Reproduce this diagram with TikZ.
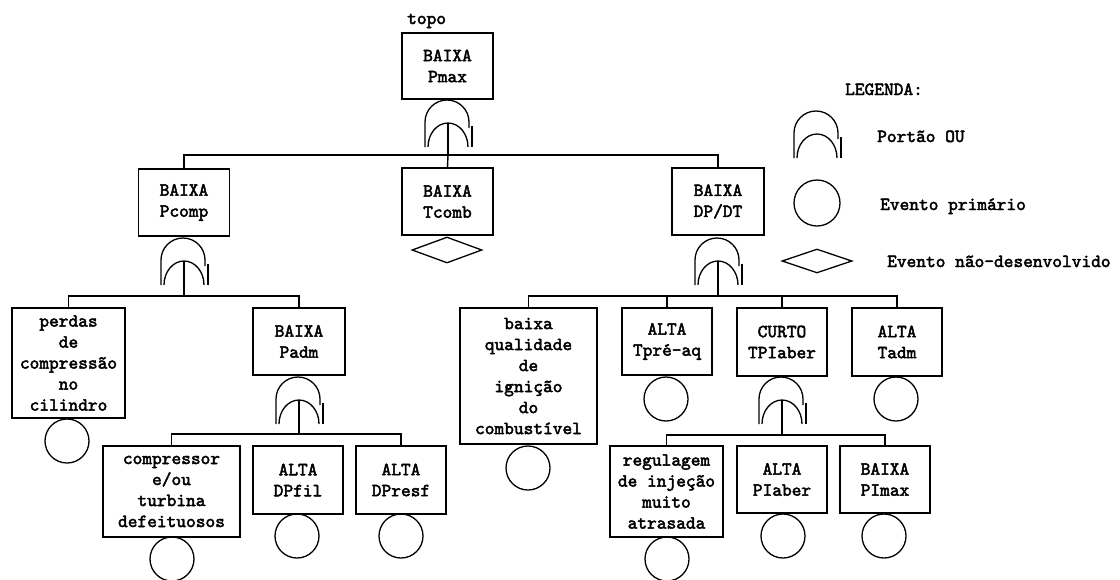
\documentclass[tikz,border=0pt]{standalone}
\usepackage{fontspec}
\newfontfamily\cmono{lmmono10-regular.otf}[BoldFont=lmmono10-regular.otf,BoldFeatures={FakeBold=2.5}]
\usetikzlibrary{shapes.geometric}
\newcommand\orgate[2]{%
  \draw[gateline] ({#1-23},{#2+47}) -- ({#1-23},{#2+22}) arc[start angle=180,end angle=360,x radius=22,y radius=22] -- ({#1+21},{#2+28});
  \draw[gateline] ({#1-20},{#2+47}) arc[start angle=180,end angle=360,x radius=20,y radius=24];
  \draw[gateline] ({#1+24},{#2+26}) -- ({#1+24},{#2+47});
}
\begin{document}
\begin{tikzpicture}[x=1pt,y=-1pt,
  every node/.style={font=\fontsize{18.5}{21}\selectfont\cmono\bfseries},
  ftbox/.style={draw,line width=1.4pt,inner sep=0pt,align=center,minimum width=90pt,minimum height=67pt},
  evt/.style={draw,circle,line width=1.3pt,inner sep=0pt,minimum size=44pt},
  und/.style={draw,diamond,line width=1.3pt,inner sep=0pt,minimum width=70pt,minimum height=26pt},
  gateline/.style={line width=1.3pt},
  conn/.style={line width=1.4pt},
  lbl/.style={anchor=base west,inner sep=0pt}]
\useasboundingbox (0,0) rectangle (1120,579);

% top
\node[lbl] (topo) at (407,24) {topo};
\node[ftbox,minimum width=91pt,minimum height=66pt] (top) at (447.5,66) {BAIXA\\Pmax};
\orgate{448}{100}
\coordinate (g0) at (448,123);
\coordinate (bus0) at (0,155);

% level 1
\node[ftbox,minimum width=91pt] (pcomp) at (184,202.5) {BAIXA\\Pcomp};
\node[ftbox,minimum width=91pt] (tcomb) at (447.5,201.5) {BAIXA\\Tcomb};
\node[und] (dtcomb) at (447,250) {};
\node[ftbox,minimum width=92pt] (dpdt) at (718,201.5) {BAIXA\\DP/DT};

\draw[conn] (g0) -- (g0 |- bus0) -| (pcomp.north);
\draw[conn] (g0 |- bus0) -| (dpdt.north);
\draw[conn] (g0 |- bus0) -- (tcomb.north);

% Pcomp gate
\orgate{184}{238}
\coordinate (g1) at (184,261);
\coordinate (bus1) at (0,296);
\node[ftbox,minimum width=113pt,minimum height=110pt] (perdas) at (68.5,363) {perdas\\de\\compressão\\no\\cilindro};
\node[evt] (cperdas) at (67,441) {};
\node[ftbox,minimum width=92pt] (padm) at (299,341.5) {BAIXA\\Padm};
\draw[conn] (g1) -- (g1 |- bus1) -| (perdas.north);
\draw[conn] (g1 |- bus1) -| (padm.north);

% Padm gate
\orgate{299}{377}
\coordinate (g3) at (299,400);
\coordinate (bus3) at (0,434);
\node[ftbox,minimum width=137pt,minimum height=91pt] (compr) at (171.5,491.5) {compressor\\e/ou\\turbina\\defeituosos};
\node[evt] (ccompr) at (172,559) {};
\node[ftbox,minimum height=68pt] (dpfil) at (298,480) {ALTA\\DPfil};
\node[evt] (cdpfil) at (297,536) {};
\node[ftbox,minimum height=68pt] (dpresf) at (401,480) {ALTA\\DPresf};
\node[evt] (cdpresf) at (401,536) {};
\draw[conn] (g3) -- (g3 |- bus3) -| (compr.north);
\draw[conn] (g3 |- bus3) -| (dpresf.north);

% DP/DT gate
\orgate{718}{238}
\coordinate (g2) at (718,261);
\coordinate (bus2) at (0,296);
\node[ftbox,minimum width=137pt,minimum height=136pt] (baixa) at (528.5,376) {baixa\\qualidade\\de\\ignição\\do\\combustível};
\node[evt] (cbaixa) at (528,468) {};
\node[ftbox] (tpre) at (667,341.5) {ALTA\\Tpré-aq};
\node[evt] (ctpre) at (666,399) {};
\node[ftbox,minimum height=68pt] (curto) at (782,342) {CURTO\\TPIaber};
\node[ftbox,minimum height=68pt] (tadm) at (897,342) {ALTA\\Tadm};
\node[evt] (ctadm) at (896,399) {};
\draw[conn] (g2) -- (g2 |- bus2) -| (baixa.north);
\draw[conn] (g2 |- bus2) -| (tadm.north);
\draw[conn] (tpre.north) -- (tpre.north |- bus2);
\draw[conn] (curto.north) -- (curto.north |- bus2);

% TPIaber gate
\orgate{782}{377}
\coordinate (g4) at (782,400);
\coordinate (bus4) at (0,435);
\node[ftbox,minimum width=113pt,minimum height=91pt] (regul) at (666.5,491.5) {regulagem\\de injeção\\muito\\atrasada};
\node[evt] (cregul) at (667,559) {};
\node[ftbox] (piaber) at (782,479.5) {ALTA\\PIaber};
\node[evt] (cpiaber) at (783,536) {};
\node[ftbox] (pimax) at (885,479.5) {BAIXA\\PImax};
\node[evt] (cpimax) at (884,536) {};
\draw[conn] (g4) -- (g4 |- bus4) -| (regul.north);
\draw[conn] (g4 |- bus4) -| (pimax.north);

% legend
\node[lbl] (leg) at (845,95) {LEGENDA:};
\orgate{817}{111}
\node[lbl] (legor) at (877,142) {Portão OU};
\node[evt,minimum size=46pt] (legc) at (817,203) {};
\node[lbl] (legev) at (880,210) {Evento primário};
\node[und,minimum height=24pt] (legd) at (817,261) {};
\node[lbl] (legund) at (887,267) {Evento não-desenvolvido};
\end{tikzpicture}
\end{document}
